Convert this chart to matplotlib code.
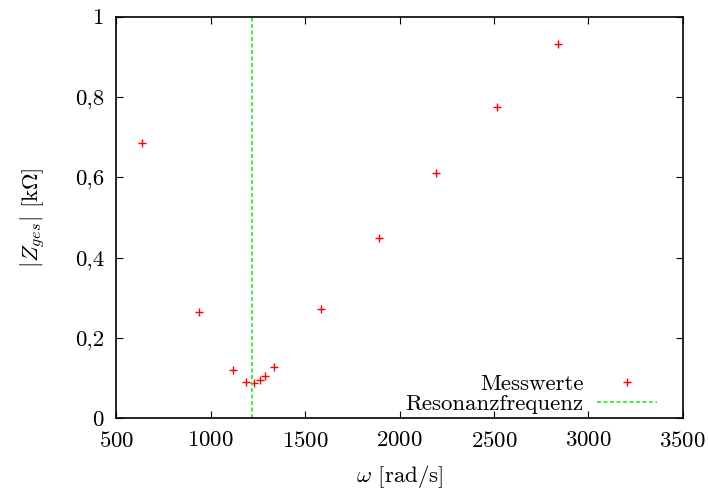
import matplotlib
matplotlib.use('Agg')
import matplotlib.pyplot as plt
from matplotlib.ticker import FuncFormatter

# Messwerte: Kreisfrequenz und Betrag der Gesamtimpedanz
omega = [634, 939, 1116, 1185, 1227, 1262, 1285, 1334, 1581, 1890, 2192, 2516, 2837]
z_ges = [0.685, 0.264, 0.121, 0.091, 0.088, 0.095, 0.106, 0.127, 0.273, 0.448, 0.612, 0.776, 0.931]
omega_res = 1219

x_ticks = [500, 1000, 1500, 2000, 2500, 3000, 3500]
y_ticks = [0, 0.2, 0.4, 0.6, 0.8, 1]

plt.rcParams['font.family'] = 'cmr10'
plt.rcParams['mathtext.fontset'] = 'cm'
plt.rcParams['axes.formatter.use_mathtext'] = True
plt.rcParams['font.size'] = 16.5

fig = plt.figure(figsize=(7.08, 4.9), dpi=100)
ax = fig.add_axes([0.1645, 0.146, 0.8, 0.82])

ax.plot(omega, z_ges, linestyle='none', marker='+', color='red',
        markersize=6, markeredgewidth=1, label='Messwerte')
ax.axvline(omega_res, color='#33ee33', linestyle=(0, (2.2, 1.4)),
           linewidth=1.3, label='Resonanzfrequenz')

ax.set_xlim(500, 3500)
ax.set_ylim(0, 1)
ax.set_xticks(x_ticks)
ax.set_yticks(y_ticks)
# Dezimalkomma statt Punkt
ax.yaxis.set_major_formatter(FuncFormatter(lambda v, p: ('%g' % v).replace('.', ',')))

ax.tick_params(direction='in', length=5, width=0.8, top=True, right=True)
ax.tick_params(axis='x', pad=9)
ax.tick_params(axis='y', pad=9)
for s in ax.spines.values():
    s.set_linewidth(1.2)

ax.set_xlabel(r'$\omega$ [rad/s]', labelpad=9)
ax.set_ylabel(r'$|Z_{ges}|$ [k$\Omega$]', labelpad=19)

ax.legend(loc='lower right', frameon=False, markerfirst=False,
          handlelength=2.6, handletextpad=0.6, labelspacing=0.02,
          borderaxespad=0.3, bbox_to_anchor=(0.982, -0.03))

fig.savefig('out.png', dpi=100)
